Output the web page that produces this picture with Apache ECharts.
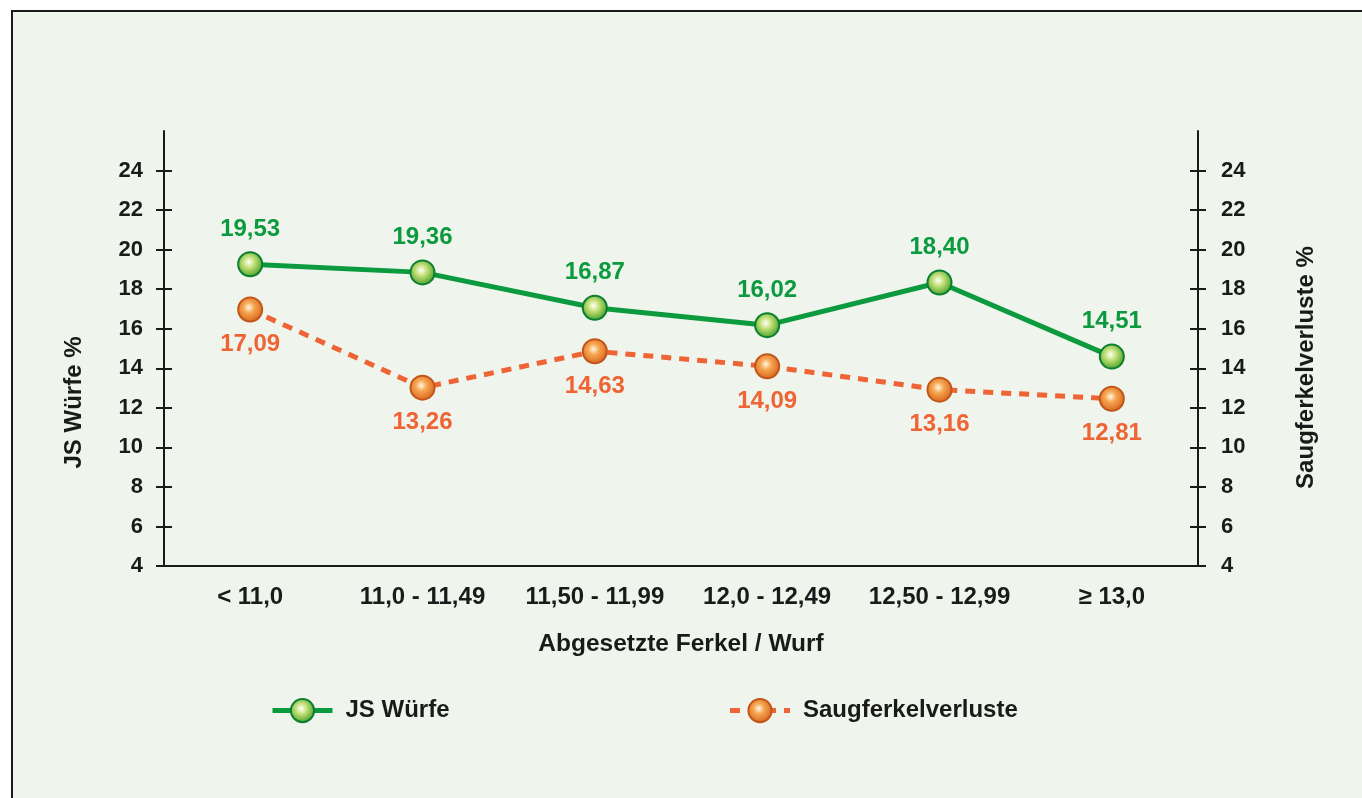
<!DOCTYPE html>
<html>
<head>
<meta charset="utf-8">
<script src="https://cdn.jsdelivr.net/npm/echarts@6/dist/echarts.min.js"></script>
<style>
  html, body { margin: 0; padding: 0; background: #ffffff; overflow: hidden; }
  #frame {
    position: absolute; left: 11px; top: 10px; width: 1400px; height: 850px;
    background: #eff5ec; border-top: 2px solid #1a1a1a; border-left: 2px solid #1a1a1a;
  }
  #chart { position: absolute; left: 0; top: 0; width: 1362px; height: 798px; }
</style>
</head>
<body>
<div id="frame"></div>
<div id="chart"></div>
<script>
var categories = ['< 11,0', '11,0 - 11,49', '11,50 - 11,99', '12,0 - 12,49', '12,50 - 12,99', '≥ 13,0'];
// plotted positions
var jsWuerfe = [19.26, 18.85, 17.06, 16.18, 18.34, 14.59];
var saugferkel = [16.97, 13.02, 14.86, 14.10, 12.92, 12.46];
// printed labels
var jsWuerfeLabels = ['19,53', '19,36', '16,87', '16,02', '18,40', '14,51'];
var saugferkelLabels = ['17,09', '13,26', '14,63', '14,09', '13,16', '12,81'];
var yTicks = [4, 6, 8, 10, 12, 14, 16, 18, 20, 22, 24];

var font = '"Liberation Sans", Arial, Helvetica, sans-serif';
var dark = '#1a1a1a';
var green = '#0c9a3e';
var orange = '#ee6434';

var chart = echarts.init(document.getElementById('chart'));

function yAxisCfg(pos, inside, name) {
    return {
        type: 'value',
        position: pos,
        min: 4,
        max: 26,
        interval: 2,
        name: name || '',
        nameLocation: 'middle',
        nameRotate: 90,
        nameGap: pos === 'left' ? 78 : 96,
        nameTextStyle: {
            fontFamily: font, fontSize: 24, fontWeight: 'bold', color: dark,
            padding: pos === 'left' ? [0, 108, 0, 0] : [0, 38, 0, 0]
        },
        splitLine: { show: false },
        axisLine: { show: !inside, lineStyle: { color: dark, width: 2 } },
        axisTick: {
            show: true, inside: inside, length: 8,
            customValues: yTicks,
            lineStyle: { color: dark, width: 2 }
        },
        axisLabel: {
            show: !inside,
            customValues: yTicks,
            margin: pos === 'left' ? 21 : 23,
            fontFamily: font, fontSize: 22, fontWeight: 'bold', color: dark
        }
    };
}

var greenDot = {
    color: {
        type: 'radial', x: 0.45, y: 0.42, r: 0.6,
        colorStops: [
            { offset: 0, color: '#ffffff' },
            { offset: 0.35, color: '#c6e27a' },
            { offset: 1, color: '#3f9a22' }
        ]
    },
    borderColor: '#0a7f30',
    borderWidth: 2
};
var orangeDot = {
    color: {
        type: 'radial', x: 0.45, y: 0.42, r: 0.6,
        colorStops: [
            { offset: 0, color: '#fff8e6' },
            { offset: 0.35, color: '#f6a650' },
            { offset: 1, color: '#d4601c' }
        ]
    },
    borderColor: '#c2561a',
    borderWidth: 2
};

var option = {
    animation: false,
    backgroundColor: 'transparent',
    grid: { left: 164, right: 164, top: 131, bottom: 232 },
    legend: {
        left: 270,
        top: 698,
        padding: 0,
        itemWidth: 60,
        itemHeight: 29,
        itemGap: 278,
        lineStyle: { width: 5 },
        textStyle: {
            fontFamily: font, fontSize: 24, fontWeight: 'bold', color: dark,
            padding: [0, 0, 0, 8]
        },
        data: ['JS Würfe', 'Saugferkelverluste']
    },
    xAxis: {
        type: 'category',
        data: categories,
        boundaryGap: true,
        name: 'Abgesetzte Ferkel / Wurf',
        nameLocation: 'middle',
        nameGap: 66,
        nameTextStyle: { fontFamily: font, fontSize: 24.5, fontWeight: 'bold', color: dark },
        axisLine: { lineStyle: { color: dark, width: 2 } },
        axisTick: { length: 8, interval: 0, lineStyle: { color: dark, width: 2 } },
        axisLabel: {
            interval: 0, margin: 19,
            fontFamily: font, fontSize: 24, fontWeight: 'bold', color: dark
        }
    },
    yAxis: [
        yAxisCfg('left', false, 'JS Würfe %'),
        yAxisCfg('right', false, 'Saugferkelverluste %'),
        yAxisCfg('left', true),
        yAxisCfg('right', true)
    ],
    series: [
        {
            name: 'JS Würfe',
            type: 'line',
            yAxisIndex: 0,
            data: jsWuerfe,
            symbol: 'circle',
            symbolSize: 24,
            lineStyle: { color: green, width: 5 },
            itemStyle: greenDot,
            label: {
                show: true,
                position: 'top',
                distance: 10,
                fontFamily: font, fontSize: 24, fontWeight: 'bold', color: green,
                formatter: function (p) { return jsWuerfeLabels[p.dataIndex]; }
            },
            z: 3
        },
        {
            name: 'Saugferkelverluste',
            type: 'line',
            yAxisIndex: 1,
            data: saugferkel,
            symbol: 'circle',
            symbolSize: 24,
            lineStyle: { color: orange, width: 5, type: [10, 8] },
            itemStyle: orangeDot,
            label: {
                show: true,
                position: 'bottom',
                distance: 10,
                fontFamily: font, fontSize: 24, fontWeight: 'bold', color: orange,
                formatter: function (p) { return saugferkelLabels[p.dataIndex]; }
            },
            z: 2
        }
    ]
};

chart.setOption(option);
</script>
</body>
</html>
